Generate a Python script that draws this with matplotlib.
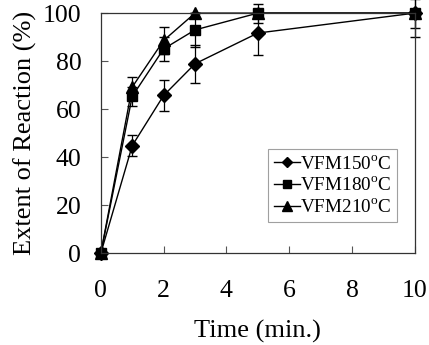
import matplotlib
matplotlib.use('Agg')
import matplotlib.pyplot as plt
from matplotlib.lines import Line2D

plt.rcParams['font.family'] = ['Liberation Serif', 'DejaVu Serif']
plt.rcParams['mathtext.fontset'] = 'custom'
plt.rcParams['mathtext.rm'] = 'Liberation Serif'

# Data
time = [0, 1, 2, 3, 5, 10]
vfm150 = [0, 44.8, 65.7, 78.9, 91.7, 100]
vfm150_err = [0, 4.4, 6.6, 8.0, 9.0, 10.0]
vfm180 = [0, 65.3, 85.1, 93.0, 100, 100]
vfm180_err = [0, 4.0, 5.0, 7.0, 4.0, 6.0]
vfm210 = [0, 69.2, 88.6, 100, 100, 100]
vfm210_err = [0, 4.4, 5.8, 0, 0, 0]

labels = ['VFM150$^{\\mathrm{o}}$C', 'VFM180$^{\\mathrm{o}}$C', 'VFM210$^{\\mathrm{o}}$C']
markers = ['D', 's', '^']
msizes = [7, 7.5, 8.5]

fig = plt.figure(figsize=(4.29, 3.45), dpi=100)
ax = fig.add_axes([0.235, 0.266, 0.732, 0.696])

series = [(vfm150, vfm150_err), (vfm180, vfm180_err), (vfm210, vfm210_err)]
for (vals, err), m, ms in zip(series, markers, msizes):
    cont = ax.errorbar(time, vals, yerr=err, color='black', marker=m, markersize=ms,
                       linewidth=1, capsize=3.5, elinewidth=0.9)
    for art in cont.get_children():
        art.set_clip_on(False)

ax.set_xlim(0, 10)
ax.set_ylim(0, 100)
ax.set_xticks([0, 2, 4, 6, 8, 10])
ax.set_yticks([0, 20, 40, 60, 80, 100])
ax.tick_params(direction='in', length=5, width=0.8, labelsize=18.5,
               color='#555555')
ax.tick_params(axis='x', pad=19)
ax.tick_params(axis='y', pad=14)
for s in ax.spines.values():
    s.set_color('#333333')
    s.set_linewidth(0.9)
ax.set_xlabel('Time (min.)', fontsize=19, labelpad=13)
ax.set_ylabel('Extent of Reaction (%)', fontsize=19, labelpad=4)

handles = [Line2D([], [], color='black', marker=m, markersize=ms * 0.8, linewidth=1)
           for m, ms in zip(markers, msizes)]
leg = ax.legend(handles, labels, loc='lower left', bbox_to_anchor=(0.532, 0.13),
                fontsize=13.8, frameon=True, fancybox=False, edgecolor='#888888',
                handlelength=1.4, handletextpad=0.0, borderpad=0.3,
                labelspacing=0.2, borderaxespad=0)
leg.get_frame().set_linewidth(0.8)

fig.savefig('out.png', dpi=100)
